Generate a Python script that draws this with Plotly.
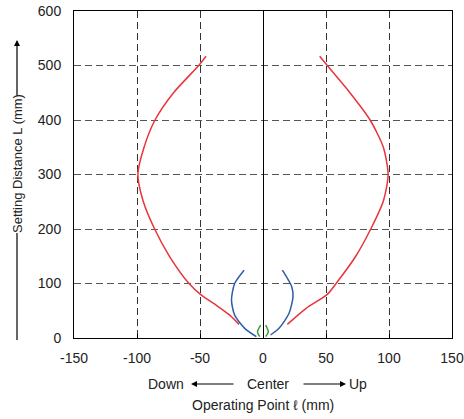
import plotly.graph_objects as go

# red curve (left / right)
red_left_x = [-19, -26.4, -37, -48.9, -58.7, -74, -86, -95.2, -99.3, -94.4, -85.7, -71, -51, -45.2]
red_left_y = [25, 42, 60, 78.6, 100, 149, 200, 252, 300, 350, 400, 450, 500, 517]
red_right_x = [19.3, 34, 51, 58, 73.6, 85.5, 95.6, 99.3, 95.5, 85, 69, 51, 45]
red_right_y = [25, 54, 80, 100, 150, 200, 252, 300, 350, 400, 450, 500, 517]

# blue curve
blue_left_x = [-5.3, -14.5, -22.5, -25, -22.5, -15]
blue_left_y = [2.4, 17.7, 42, 69.5, 100, 124.4]
blue_right_x = [6, 12.7, 20.6, 23.8, 22.8, 15.4]
blue_right_y = [5.5, 17.7, 45, 75.5, 94, 124.4]

# green curve
green_left_x = [-2.6, -4.4, -1.8]
green_left_y = [2.4, 11.6, 23.8]
green_right_x = [2.1, 4.2, 2.1]
green_right_y = [2.4, 11.6, 23.8]

x_ticks = [-150, -100, -50, 0, 50, 100, 150]
y_ticks = [0, 100, 200, 300, 400, 500, 600]

RED = '#E8343A'
BLUE = '#2F5DA6'
GREEN = '#3C9A3C'
FONT = 'Liberation Sans, Arial, sans-serif'
TXT = dict(size=14, color='#222', family=FONT)

W, H = 464, 419
L, R, T, B = 74, 12, 11, 81
pw, ph = W - L - R, H - T - B


def px(xp):
    # page pixel x -> paper fraction
    return (xp - L) / pw


def py(yp):
    # page pixel y -> paper fraction
    return (H - B - yp) / ph


fig = go.Figure()

for xs, ys, col in [
    (red_left_x, red_left_y, RED), (red_right_x, red_right_y, RED),
    (blue_left_x, blue_left_y, BLUE), (blue_right_x, blue_right_y, BLUE),
    (green_left_x, green_left_y, GREEN), (green_right_x, green_right_y, GREEN),
]:
    fig.add_trace(go.Scatter(x=xs, y=ys, mode='lines',
                             line=dict(color=col, width=1.5, shape='spline', smoothing=0.7),
                             hoverinfo='skip'))

fig.update_xaxes(
    range=[-150, 150], tickvals=x_ticks, ticktext=[str(v) for v in x_ticks],
    showgrid=True, gridcolor='#333', griddash='7px,4px', gridwidth=1,
    zeroline=True, zerolinecolor='black', zerolinewidth=1,
    showline=True, linecolor='black', linewidth=1, mirror=True,
    ticks='inside', ticklen=4, tickcolor='black', ticklabelstandoff=7,
    tickfont=TXT, automargin=False,
)
fig.update_yaxes(
    range=[0, 600], tickvals=y_ticks, ticktext=[str(v) for v in y_ticks],
    showgrid=True, gridcolor='#555', griddash='7px,4px', gridwidth=1,
    zeroline=False,
    showline=True, linecolor='black', linewidth=1, mirror=True,
    ticks='', ticklabelstandoff=9,
    tickfont=TXT, automargin=False,
)


def label(text, x, y, angle=0, size=14):
    fig.add_annotation(text=text, x=px(x), y=py(y), xref='paper', yref='paper',
                       xanchor='center', yanchor='middle', showarrow=False,
                       textangle=angle, font=dict(TXT, size=size))


def arrow(x, y, ax, ay):
    fig.add_annotation(x=px(x), y=py(y), ax=ax, ay=ay, xref='paper', yref='paper', text='',
                       showarrow=True, arrowhead=2, arrowsize=1, arrowwidth=1.2,
                       arrowcolor='black')


# x-axis label row: Down <--- Center ---> Up
label('Down', 166, 384)
label('Center', 268, 384)
label('Up', 358, 384)
label('Operating Point ℓ (mm)', 263, 405)
arrow(191, 384, 44, 0)
arrow(346, 384, -44, 0)

# y-axis title with arrow
label('Setting Distance L (mm)', 17, 164, -90, size=13)
arrow(17, 40, 0, 57)
fig.add_shape(type='line', x0=px(17), x1=px(17), y0=py(233), y1=py(340),
              xref='paper', yref='paper', line=dict(color='black', width=1.2))

fig.update_layout(
    width=W, height=H,
    margin=dict(l=L, r=R, t=T, b=B),
    plot_bgcolor='white', paper_bgcolor='white',
    showlegend=False,
    font=TXT,
)

fig.write_html('out.html', config={'displayModeBar': False},
               post_script="document.body.style.margin='0';")
